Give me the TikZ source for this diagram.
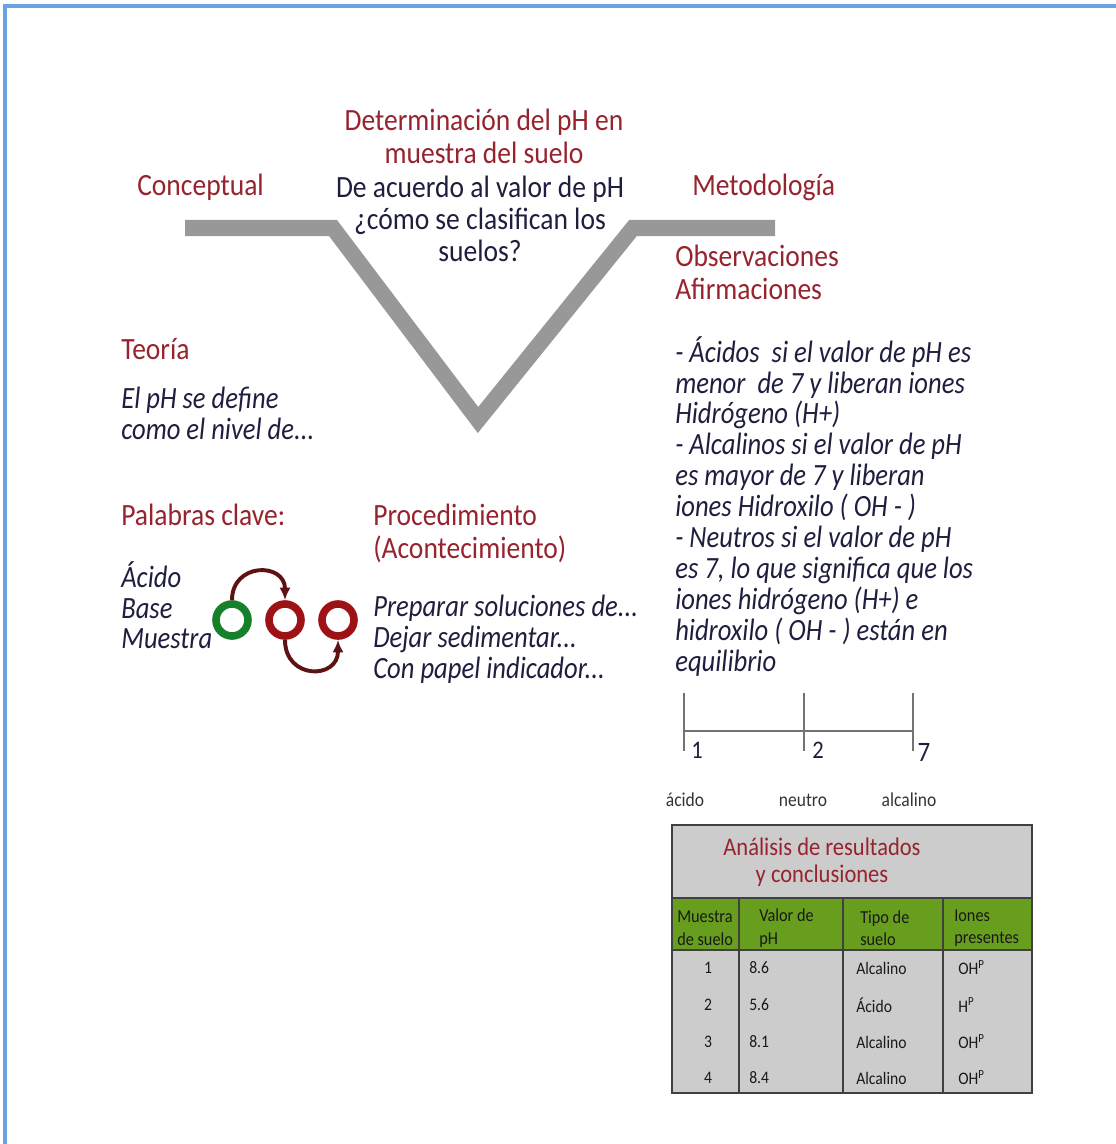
\documentclass[tikz,border=0pt]{standalone}
\usepackage{fontspec}
\setmainfont{Carlito}[FakeStretch=0.89]
\newfontfamily\narrowit{Carlito}[FakeStretch=0.86]
\usetikzlibrary{arrows.meta,positioning}

\definecolor{headred}{RGB}{150,35,45}
\definecolor{bodynavy}{RGB}{30,30,62}
\definecolor{vgray}{RGB}{152,152,152}
\definecolor{framblue}{RGB}{105,163,226}
\definecolor{ringgreen}{RGB}{22,128,42}
\definecolor{ringred}{RGB}{158,18,22}
\definecolor{arcred}{RGB}{95,18,20}
\definecolor{tabgray}{RGB}{204,204,204}
\definecolor{tabgreen}{RGB}{104,158,30}

\begin{document}
\begin{tikzpicture}[
    x=0.025cm, y=-0.025cm,
    head/.style={font=\fontsize{22}{23}\selectfont, text=headred, inner sep=0, align=left},
    ask/.style={font=\fontsize{22}{22.6}\selectfont, text=bodynavy, inner sep=0, align=center},
    body/.style={font=\narrowit\fontsize{22}{22}\selectfont\itshape, text=bodynavy, inner sep=0, align=left},
    ring/.style={circle, minimum size=0.8cm, line width=5.4pt, inner sep=0},
    arc/.style={-{Latex[length=9pt,width=8pt]}, line width=2.8pt, arcred},
    small/.style={font=\fontsize{14}{15}\selectfont, text=black!80, inner sep=0},
    cellhd/.style={font=\fontsize{13}{16}\selectfont, text=black!90, inner sep=0, align=left},
    cell/.style={font=\fontsize{12.5}{13}\selectfont, text=black!90, inner sep=0}
  ]
    \useasboundingbox (0,0) rectangle (1116,1144);
    \draw[framblue, line width=2.2pt] (5,1144) -- (5,6) -- (1116,6);

    \draw[vgray, line width=11.4pt] (185,228) -- (333,228) -- (478,420) -- (633,228) -- (775,228);

    \node[head, align=center, anchor=north] (tema) at (484,109) {Determinación del pH en\\muestra del suelo};
    \node[head, anchor=west] (concept) at (137,187) {Conceptual};
    \node[ask, anchor=north] (pregunta) at (480,176) {De acuerdo al valor de pH\\¿cómo se clasifican los\\suelos?};
    \node[head, anchor=west] (metodo) at (692,187) {Metodología};

    \node[head, anchor=north west] (observ) at (675,245) {Observaciones\\Afirmaciones};
    \node[body, anchor=north west] (afirm) at (675,336)
      {- Ácidos\ \ si el valor de pH es\\menor\ \ de 7 y liberan iones\\Hidrógeno (H+)\\- Alcalinos si el valor de pH\\es mayor de 7 y liberan\\iones Hidroxilo ( OH - )\\- Neutros si el valor de pH\\es 7, lo que significa que los\\iones hidrógeno (H+) e\\hidroxilo ( OH - ) están en\\equilibrio};

    \node[head, anchor=west] (teoria) at (121,349) {Teoría};
    \node[body, anchor=north west] (defin) at (121,387) {El pH se define\\como el nivel de...};

    \node[head, anchor=west] (clave) at (121,515) {Palabras clave:};
    \node[body, anchor=north west] (palabras) at (121,561) {Ácido\\Base\\Muestra};
    \node[head, anchor=north west] (proced) at (373,504) {Procedimiento\\(Acontecimiento)};
    \node[body, anchor=north west] (pasos) at (373,595) {Preparar soluciones de...\\Dejar sedimentar...\\Con papel indicador...};

    \node[ring, draw=ringgreen] (c1) at (232,620) {};
    \node[ring, draw=ringred] (c2) at (285,620) {};
    \node[ring, draw=ringred] (c3) at (338,620) {};
    \draw[arc] (c1.north) .. controls +(0,-38) and +(0,-38) .. (c2.north);
    \draw[arc] (c2.south) .. controls +(0,40) and +(0,40) .. (c3.south);

    \coordinate (s1) at (684,731);
    \coordinate (s2) at (804,731);
    \coordinate (s3) at (913,731);
    \draw[black!55, line width=0.9pt] (s1) -- (s3);
    \foreach \s in {s1,s2,s3}
      \draw[black!55, line width=0.9pt] ([yshift=38*0.025cm]\s) -- ([yshift=-20*0.025cm]\s);
    \node[font=\fontsize{18}{18}\selectfont, text=bodynavy, inner sep=0] (n1) at (697,750) {1};
    \node[font=\fontsize{18}{18}\selectfont, text=bodynavy, inner sep=0] (n2) at (818,750) {2};
    \node[font=\fontsize{20}{20}\selectfont, text=bodynavy, inner sep=0] (n7) at (924,752) {7};
    \node[small] (acido) at (685,800) {ácido};
    \node[small] (neutro) at (803,800) {neutro};
    \node[small] (alcal) at (909,800) {alcalino};

    \fill[tabgray] (672,825) rectangle (1032,1093);
    \fill[tabgreen] (672,898) rectangle (1032,950);
    \draw[black!75, line width=1.3pt] (672,825) rectangle (1032,1093);
    \draw[black!75, line width=1.3pt] (672,898) -- (1032,898) (672,950) -- (1032,950);
    \foreach \x in {739,843,943}
      \draw[black!75, line width=1.1pt] (\x,898) -- (\x,1093);
    \node[font=\fontsize{18}{19}\selectfont, text=headred, inner sep=0, align=center] (analisis) at (822,862) {Análisis de resultados\\y conclusiones};

    \node[cellhd, anchor=west] (h1) at (677,928) {Muestra\\de suelo};
    \node[cellhd, anchor=west] (h2) at (759,928) {Valor de\\pH};
    \node[cellhd, anchor=west] (h3) at (860,928) {Tipo de\\suelo};
    \node[cellhd, anchor=west] (h4) at (954,928) {Iones\\presentes};

    \foreach \y/\n/\v/\t/\i in {968/1/8.6/Alcalino/OH, 1005/2/5.6/Ácido/H, 1042/3/8.1/Alcalino/OH, 1078/4/8.4/Alcalino/OH} {
      \node[cell] (m\n) at (708,\y) {\n};
      \node[cell, anchor=west] (v\n) at (749,\y) {\v};
      \node[cell, anchor=west] (t\n) at (856,\y) {\t};
      \node[cell, anchor=west] (i\n) at (958,\y) {\i\textsuperscript{P}};
    }
  \end{tikzpicture}
\end{document}
